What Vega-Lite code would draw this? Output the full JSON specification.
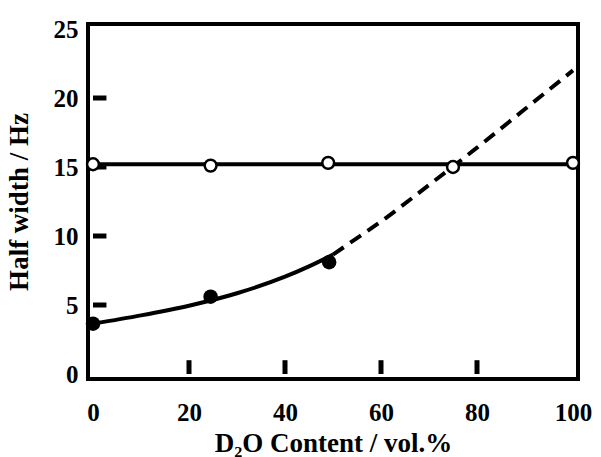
{
  "$schema": "https://vega.github.io/schema/vega-lite/v6.json",
  "autosize": {"type": "none"},
  "padding": {"left": 88, "top": 24, "right": 23, "bottom": 78},
  "width": 490,
  "height": 355,
  "background": "white",
  "config": {
    "view": {"stroke": "black", "strokeWidth": 4},
    "axis": {
      "grid": false,
      "domain": false,
      "ticks": false,
      "labelFont": "Liberation Serif",
      "labelFontWeight": "bold",
      "labelFontSize": 25,
      "labelColor": "black",
      "titleFont": "Liberation Serif",
      "titleFontWeight": "bold",
      "titleFontSize": 27,
      "titleColor": "black"
    }
  },
  "datasets": {
    "hline": [{"x": 0, "y": 15.2}, {"x": 100, "y": 15.2}],
    "xticks": [{"x": 20, "y": 0, "y2": 1.0}, {"x": 40, "y": 0, "y2": 1.0}, {"x": 60, "y": 0, "y2": 1.0}, {"x": 80, "y": 0, "y2": 1.0}],
    "yticks": [{"y": 5, "x": 0, "x2": 2.8}, {"y": 10, "x": 0, "x2": 2.8}, {"y": 15, "x": 0, "x2": 2.8}, {"y": 20, "x": 0, "x2": 2.8}],
    "curve": [
      {"x": 0, "y": 3.65, "seg": "solid"},
      {"x": 10, "y": 4.25, "seg": "solid"},
      {"x": 20, "y": 4.95, "seg": "solid"},
      {"x": 30, "y": 5.85, "seg": "solid"},
      {"x": 40, "y": 7.05, "seg": "solid"},
      {"x": 45, "y": 7.8, "seg": "solid"},
      {"x": 50, "y": 8.65, "seg": "solid"},
      {"x": 50, "y": 8.65, "seg": "dashed"},
      {"x": 55, "y": 9.85, "seg": "dashed"},
      {"x": 60, "y": 11.05, "seg": "dashed"},
      {"x": 70, "y": 13.7, "seg": "dashed"},
      {"x": 80, "y": 16.4, "seg": "dashed"},
      {"x": 90, "y": 19.2, "seg": "dashed"},
      {"x": 100, "y": 22.0, "seg": "dashed"}
    ],
    "open": [
      {"x": 0, "y": 15.2},
      {"x": 24.5, "y": 15.1},
      {"x": 49, "y": 15.3},
      {"x": 75, "y": 15.0},
      {"x": 100, "y": 15.3}
    ],
    "filled": [
      {"x": 0, "y": 3.65},
      {"x": 24.5, "y": 5.6},
      {"x": 49.2, "y": 8.1}
    ]
  },
  "layer": [
    {
      "data": {"name": "xticks"},
      "mark": {"type": "bar", "color": "black", "width": 5, "opacity": 1},
      "encoding": {
        "x": {
          "field": "x", "type": "quantitative",
          "scale": {"domain": [0, 100], "nice": false},
          "axis": {"values": [0, 20, 40, 60, 80, 100], "title": "D₂O Content / vol.%", "labelPadding": 21, "titlePadding": 5, "labelFlush": false}
        },
        "y": {
          "field": "y", "type": "quantitative",
          "scale": {"domain": [0, 25], "nice": false},
          "axis": {"values": [0, 5, 10, 15, 20, 25], "title": "Half width / Hz", "labelPadding": 10, "titlePadding": 20, "labelFlush": false}
        },
        "y2": {"field": "y2"}
      }
    },
    {
      "data": {"name": "yticks"},
      "mark": {"type": "bar", "orient": "horizontal", "color": "black", "height": 5, "opacity": 1},
      "encoding": {
        "y": {"field": "y", "type": "quantitative"},
        "x": {"field": "x", "type": "quantitative"},
        "x2": {"field": "x2"}
      }
    },
    {
      "data": {"name": "hline"},
      "mark": {"type": "line", "color": "black", "strokeWidth": 4, "clip": false},
      "encoding": {
        "x": {"field": "x", "type": "quantitative"},
        "y": {"field": "y", "type": "quantitative"}
      }
    },
    {
      "data": {"name": "curve"},
      "transform": [{"filter": "datum.seg === 'solid'"}],
      "mark": {"type": "line", "color": "black", "strokeWidth": 4, "interpolate": "monotone"},
      "encoding": {
        "x": {"field": "x", "type": "quantitative"},
        "y": {"field": "y", "type": "quantitative"}
      }
    },
    {
      "data": {"name": "curve"},
      "transform": [{"filter": "datum.seg === 'dashed'"}],
      "mark": {"type": "line", "color": "black", "strokeWidth": 4, "interpolate": "monotone", "strokeDash": [13, 8]},
      "encoding": {
        "x": {"field": "x", "type": "quantitative"},
        "y": {"field": "y", "type": "quantitative"}
      }
    },
    {
      "data": {"name": "filled"},
      "mark": {"type": "point", "shape": "circle", "filled": true, "color": "black", "size": 210, "opacity": 1, "clip": false},
      "encoding": {
        "x": {"field": "x", "type": "quantitative"},
        "y": {"field": "y", "type": "quantitative"}
      }
    },
    {
      "data": {"name": "open"},
      "mark": {"type": "point", "shape": "circle", "filled": true, "fill": "white", "stroke": "black", "strokeWidth": 2.5, "size": 140, "opacity": 1, "clip": false},
      "encoding": {
        "x": {"field": "x", "type": "quantitative"},
        "y": {"field": "y", "type": "quantitative"}
      }
    }
  ]
}
